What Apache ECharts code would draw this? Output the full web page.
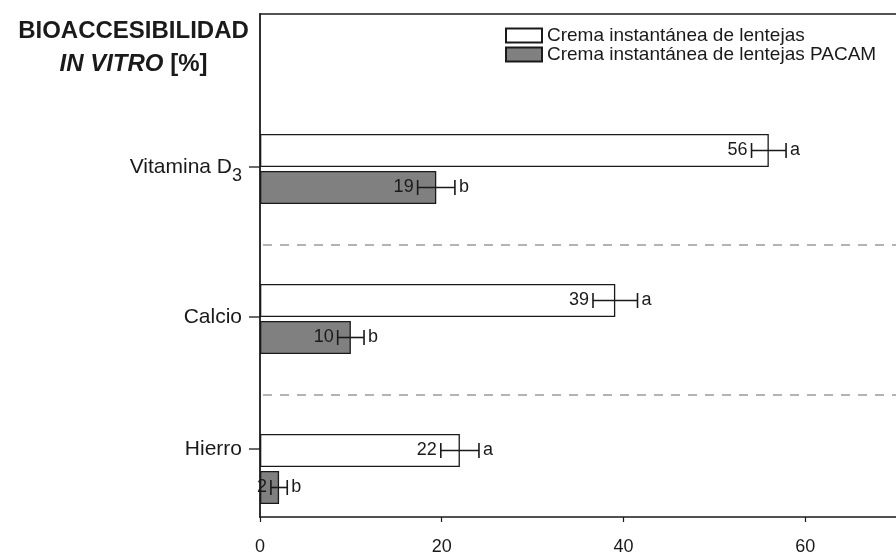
<!DOCTYPE html>
<html>
<head>
<meta charset="utf-8">
<script src="https://cdn.jsdelivr.net/npm/echarts@6/dist/echarts.min.js"></script>
<style>
html,body{margin:0;padding:0;background:#fff;}
#chart{width:896px;height:556px;}
</style>
</head>
<body>
<div id="chart"></div>
<script>
// ---- data ----
const categories = ['Vitamina D3', 'Calcio', 'Hierro'];
const seriesNames = ['Crema instantánea de lentejas', 'Crema instantánea de lentejas PACAM'];
const valuesPlain = [56, 39.1, 22];
const errorsPlain = [1.9, 2.45, 2.1];
const lettersPlain = ['a', 'a', 'a'];
const valuesPacam = [19.4, 10, 2.1];
const errorsPacam = [2.05, 1.45, 0.9];
const lettersPacam = ['b', 'b', 'b'];
const xTicks = [0, 20, 40, 60];
const xMax = 70;

const FONT = "'Liberation Sans', Arial, Helvetica, sans-serif";
const INK = '#1a1a1a';
const BAR_W = 33, BAR_GAP_PX = 4;
// vertical shift (px) of each category's label/tick relative to its band centre (style)
const labelShift = { 'Vitamina D3': -2, 'Calcio': -2, 'Hierro': -20 };

function errRender(values, errors, letters, sign) {
  return function (params, api) {
    const i = params.dataIndex;
    const v = values[i], e = errors[i];
    const ci = api.value(1);
    const c = api.coord([v, ci]);
    const y = c[1] + sign * (BAR_W + BAR_GAP_PX) / 2;
    const lo = api.coord([v - e, ci])[0];
    const hi = api.coord([v + e, ci])[0];
    const cap = 7.5;
    const ls = { stroke: INK, lineWidth: 1.6 };
    return {
      type: 'group',
      children: [
        { type: 'line', shape: { x1: lo, y1: y, x2: hi, y2: y }, style: ls },
        { type: 'line', shape: { x1: lo, y1: y - cap, x2: lo, y2: y + cap }, style: ls },
        { type: 'line', shape: { x1: hi, y1: y - cap, x2: hi, y2: y + cap }, style: ls },
        { type: 'text', x: lo - 4, y: y, style: { text: String(Math.round(v)), align: 'right', verticalAlign: 'middle', fontFamily: FONT, fontSize: 18, fill: INK } },
        { type: 'text', x: hi + 4, y: y, style: { text: letters[i], align: 'left', verticalAlign: 'middle', fontFamily: FONT, fontSize: 18, fill: INK } }
      ]
    };
  };
}

const chart = echarts.init(document.getElementById('chart'), null, { renderer: 'canvas' });
chart.setOption({
  animation: false,
  backgroundColor: '#fff',
  textStyle: { fontFamily: FONT },
  graphic: [{
    type: 'text', x: 133.5, y: 15,
    style: {
      text: '{b|BIOACCESIBILIDAD}\n{bi|IN VITRO}{b| [%]}',
      align: 'center', verticalAlign: 'top',
      rich: {
        b: { fontFamily: FONT, fontWeight: 'bold', fontSize: 24, lineHeight: 33, fill: INK, align: 'center' },
        bi: { fontFamily: FONT, fontWeight: 'bold', fontStyle: 'italic', fontSize: 24, lineHeight: 33, fill: INK, align: 'center' }
      }
    }
  }],
  legend: {
    data: seriesNames,
    orient: 'vertical',
    left: 505, top: 26,
    padding: 0,
    itemGap: 0,
    itemWidth: 36, itemHeight: 14,
    icon: 'rect',
    textStyle: { fontFamily: FONT, fontSize: 19, lineHeight: 18, color: INK }
  },
  grid: [
    { left: 260, right: 0, top: 94, bottom: 12 },
    { left: 260, right: 0, top: 14, bottom: 37 }
  ],
  xAxis: [
    { gridIndex: 0, type: 'value', min: 0, max: xMax, show: false },
    {
      gridIndex: 1, type: 'value', min: 0, max: xMax, interval: 20, position: 'bottom',
      axisLine: { show: true, onZero: false, lineStyle: { color: INK, width: 1.5 } },
      axisTick: { show: true, length: 5, lineStyle: { color: INK, width: 1.2 } },
      axisLabel: { fontFamily: FONT, fontSize: 18, color: INK, margin: 21, showMaxLabel: false,
        formatter: v => xTicks.indexOf(v) >= 0 ? String(v) : '' },
      splitLine: { show: false }
    },
    {
      gridIndex: 1, type: 'value', min: 0, max: xMax, position: 'top',
      axisLine: { show: true, onZero: false, lineStyle: { color: INK, width: 1.5 } },
      axisTick: { show: false }, axisLabel: { show: false }, splitLine: { show: false }
    }
  ],
  yAxis: [
    {
      gridIndex: 0, type: 'category', data: categories, inverse: true,
      axisLine: { show: false },
      axisTick: { show: false },
      axisLabel: {
        margin: 18, fontFamily: FONT, fontSize: 21, color: INK,
        formatter: function (v) {
          const s = labelShift[v] || 0;
          const pad = s < 0 ? [0, 0, -2 * s, 0] : [2 * s, 0, 0, 0];
          if (v === 'Vitamina D3') return '{vd|Vitamina D}{sub|3}';
          return '{m' + (v === 'Hierro' ? 'h' : '') + '|' + v + '}';
        },
        rich: {
          m: { fontFamily: FONT, fontSize: 21, color: INK, padding: [0, 0, 4, 0] },
          vd: { fontFamily: FONT, fontSize: 21, color: INK, padding: [0, 0, 4, 0] },
          sub: { fontFamily: FONT, fontSize: 18, color: INK, padding: [15, 0, 0, 0] },
          mh: { fontFamily: FONT, fontSize: 21, color: INK, padding: [0, 0, 40, 0] }
        }
      },
      splitLine: { show: false }
    },
    {
      gridIndex: 1, type: 'value', min: 0, max: 1,
      axisLine: { show: true, onZero: false, lineStyle: { color: INK, width: 1.8 } },
      axisTick: { show: false }, axisLabel: { show: false }, splitLine: { show: false }
    }
  ],
  series: [
    {
      name: seriesNames[0], type: 'bar', xAxisIndex: 0, yAxisIndex: 0,
      data: valuesPlain, barWidth: BAR_W, barGap: (BAR_GAP_PX / BAR_W * 100).toFixed(1) + '%',
      itemStyle: { color: '#ffffff', borderColor: INK, borderWidth: 1.3 }
    },
    {
      name: seriesNames[1], type: 'bar', xAxisIndex: 0, yAxisIndex: 0,
      data: valuesPacam, barWidth: BAR_W,
      itemStyle: { color: '#808080', borderColor: INK, borderWidth: 1.3 }
    },
    {
      type: 'custom', xAxisIndex: 0, yAxisIndex: 0, z: 5, clip: false,
      data: categories.map((c, i) => [valuesPlain[i], c]),
      renderItem: errRender(valuesPlain, errorsPlain, lettersPlain, -1)
    },
    {
      type: 'custom', xAxisIndex: 0, yAxisIndex: 0, z: 5, clip: false,
      data: categories.map((c, i) => [valuesPacam[i], c]),
      renderItem: errRender(valuesPacam, errorsPacam, lettersPacam, 1)
    },
    {
      // category ticks, aligned with the category labels
      type: 'custom', xAxisIndex: 0, yAxisIndex: 0, z: 6, clip: false,
      data: categories.map(c => [0, c]),
      renderItem: function (params, api) {
        const ci = api.value(1);
        const p0 = api.coord([0, ci]);
        const y = p0[1] + (labelShift[categories[params.dataIndex]] || 0);
        return { type: 'line', shape: { x1: p0[0] - 11, y1: y, x2: p0[0], y2: y },
          style: { stroke: INK, lineWidth: 1.3 } };
      }
    },
    {
      // dashed separators between categories
      type: 'custom', xAxisIndex: 0, yAxisIndex: 0, z: 1, clip: false,
      data: categories.slice(1).map(c => [0, c]),
      renderItem: function (params, api) {
        const ci = api.value(1);
        const band = api.size([0, 1])[1];
        const p0 = api.coord([0, ci]);
        const p1 = api.coord([xMax, ci]);
        const y = p0[1] - band / 2 + 1;
        return { type: 'line', shape: { x1: p0[0] + 3, y1: y, x2: p1[0], y2: y },
          style: { stroke: '#9a9a9a', lineWidth: 1.3, lineDash: [9, 8] } };
      }
    }
  ]
});
</script>
</body>
</html>
